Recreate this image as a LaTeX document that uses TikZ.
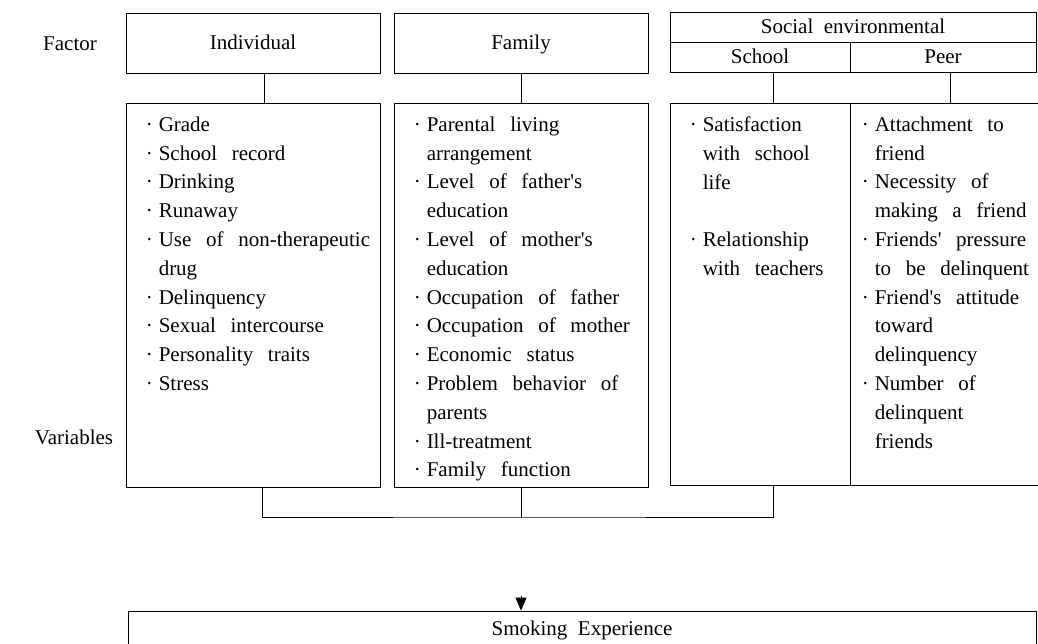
\documentclass[tikz,border=0pt]{standalone}
\usepackage{fontspec}
\setmainfont{Liberation Serif}
\usetikzlibrary{positioning,arrows.meta}

% bullet and hanging indent for the variable lists
\newcommand{\bl}{\makebox[13pt][l]{\textperiodcentered}}
\newcommand{\cn}{\hspace*{13pt}}
\newcommand{\ap}{\textquotesingle}
\newcommand{\figfont}{\fontsize{21}{28.8}\selectfont\spaceskip=0.5em plus 0.1em\relax}
\newcommand{\lstfont}{\fontsize{21}{28.8}\selectfont\spaceskip=0.7em plus 0.1em\relax}

\begin{document}
\begin{tikzpicture}[x=1pt,y=-1pt,
  every node/.style={font=\figfont},
  box/.style={draw,line width=0.9pt,inner sep=0pt,text height=16pt,text depth=2pt},
  lst/.style={align=left,inner sep=0pt,anchor=north west,font=\lstfont},
  link/.style={line width=0.9pt}]
\clip (0,0) rectangle (1038,644);

% Row labels
\node (factor) at (70,44) {Factor};
\node (vars) at (74,437) {Variables};

% Factor boxes
\node[box,minimum width=254,minimum height=60] (ind) at (253,43) {Individual};
\node[box,minimum width=254,minimum height=60] (fam) at (521,43) {Family};
\node[box,minimum width=366,minimum height=30] (soc) at (853,27) {Social environmental};
\node[box,minimum width=180,minimum height=30] (sch) at (760,57) {School};
\node[box,minimum width=186,minimum height=30] (peer) at (943,57) {Peer};

% Variable boxes
\node[box,minimum width=254,minimum height=384] (indv) at (253,295) {};
\node[box,minimum width=254,minimum height=384] (famv) at (521,295) {};
\node[box,minimum width=180,minimum height=382] (schv) at (760,294) {};
\node[box,minimum width=192,minimum height=382] (peerv) at (946,294) {};

% Variable lists
\node[lst,below right=14pt and 20pt of indv.north west] (indl) {%
\bl Grade\\ \bl School record\\ \bl Drinking\\ \bl Runaway\\
\bl Use of non-therapeutic\\ \cn drug\\ \bl Delinquency\\
\bl Sexual intercourse\\ \bl Personality traits\\ \bl Stress};
\node[lst,below right=14pt and 20pt of famv.north west] (faml) {%
\bl Parental living\\ \cn arrangement\\ \bl Level of father\ap s\\ \cn education\\
\bl Level of mother\ap s\\ \cn education\\ \bl Occupation of father\\
\bl Occupation of mother\\ \bl Economic status\\ \bl Problem behavior of\\
\cn parents\\ \bl Ill-treatment\\ \bl Family function};
\node[lst,below right=14pt and 20pt of schv.north west] (schl) {%
\bl Satisfaction\\ \cn with school\\ \cn life\\[28.8pt]
\bl Relationship\\ \cn with teachers};
\node[lst,below right=14pt and 12pt of peerv.north west] (peerl) {%
\bl Attachment to\\ \cn friend\\ \bl Necessity of\\ \cn making a friend\\
\bl Friends\ap{} pressure\\ \cn to be delinquent\\ \bl Friend\ap s attitude\\
\cn toward\\ \cn delinquency\\ \bl Number of\\ \cn delinquent\\ \cn friends};

% Outcome box
\node[box,minimum width=908,minimum height=34] (smk) at (582,628) {Smoking Experience};

% Connectors
\draw[link] ([xshift=11]ind.south) -- ([xshift=11]ind.south |- indv.north);
\draw[link] (fam) -- (famv);
\draw[link] ([xshift=13]sch.south) -- ([xshift=13]sch.south |- schv.north);
\draw[link] ([xshift=7]peer.south) -- ([xshift=7]peer.south |- peerv.north);

\coordinate (jn) at (521,517);
\draw[link] ([xshift=9]indv.south) |- (jn) -| ([xshift=13]schv.south);
\draw[link] (famv.south) -- (jn);
\draw[-{Triangle[length=13pt,width=11pt]},line width=0.6pt]
  ([yshift=15]jn |- smk.north) -- (jn |- smk.north);
\end{tikzpicture}
\end{document}
